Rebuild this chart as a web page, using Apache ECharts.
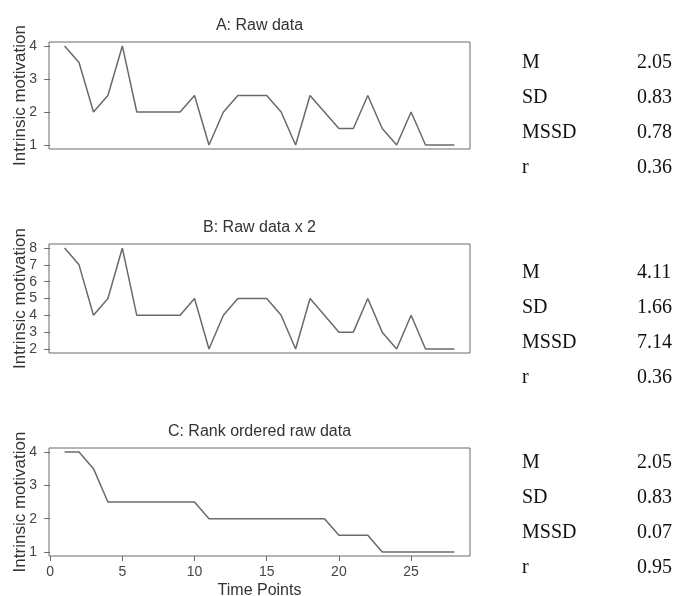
<!DOCTYPE html>
<html>
<head>
<meta charset="utf-8">
<script src="https://cdn.jsdelivr.net/npm/echarts@6/dist/echarts.min.js"></script>
<style>html,body{margin:0;padding:0;background:#fff}#c{width:675px;height:596px}</style>
</head>
<body>
<div id="c"></div>
<script>
// ---- data ----
const timePoints = [1,2,3,4,5,6,7,8,9,10,11,12,13,14,15,16,17,18,19,20,21,22,23,24,25,26,27,28];
const rawData    = [4,3.5,2,2.5,4,2,2,2,2,2.5,1,2,2.5,2.5,2.5,2,1,2.5,2,1.5,1.5,2.5,1.5,1,2,1,1,1];
const rawDataX2  = [8,7,4,5,8,4,4,4,4,5,2,4,5,5,5,4,2,5,4,3,3,5,3,2,4,2,2,2];
const rankData   = [4,4,3.5,2.5,2.5,2.5,2.5,2.5,2.5,2.5,2,2,2,2,2,2,2,2,2,1.5,1.5,1.5,1,1,1,1,1,1];
const panelTitles = ['A: Raw data', 'B: Raw data x 2', 'C: Rank ordered raw data'];
const yTicksA = [1,2,3,4];
const yTicksB = [2,3,4,5,6,7,8];
const yTicksC = [1,2,3,4];
const xTicks = [0,5,10,15,20,25];
const statLabels = ['M','SD','MSSD','r'];
const statsA = ['2.05','0.83','0.78','0.36'];
const statsB = ['4.11','1.66','7.14','0.36'];
const statsC = ['2.05','0.83','0.07','0.95'];

// ---- layout ----
const gridTops = [42, 244, 448];
const gridHeights = [107, 109, 108];
const gridLeft = 49, gridRight = 205;
const lineColor = '#6a6a6a';
const textColor = '#444';
const yLimits = [[0.88, 4.12], [1.76, 8.24], [0.88, 4.12]];
const yTicks = [yTicksA, yTicksB, yTicksC];
const seriesData = [rawData, rawDataX2, rankData];
const statSets = [statsA, statsB, statsC];
const statTops = [63, 273, 463];
const statGap = 34.8;

const chart = echarts.init(document.getElementById('c'), null, {renderer: 'canvas'});

const grids = [], xAxes = [], yAxes = [], series = [], titles = [], graphics = [];
for (let i = 0; i < 3; i++) {
  grids.push({left: gridLeft, right: gridRight, top: gridTops[i], height: gridHeights[i],
    outerBoundsMode: 'none', containLabel: false,
    show: true, borderColor: lineColor, borderWidth: 1, backgroundColor: 'transparent'});
  const isLast = i === 2;
  xAxes.push({type: 'value', gridIndex: i, min: -0.08, max: 29.08,
    axisLine: {show: false},
    splitLine: {show: false},
    axisTick: {show: isLast, length: 5, inside: false, customValues: xTicks, lineStyle: {color: lineColor}},
    axisLabel: {show: isLast, customValues: xTicks, margin: 9, color: textColor, fontSize: 14, fontFamily: 'Liberation Sans, Arial'},
    name: isLast ? 'Time Points' : '', nameLocation: 'middle', nameGap: 27, nameMoveOverlap: false,
    nameTextStyle: {color: '#333', fontSize: 16, fontFamily: 'Liberation Sans, Arial'}
  });
  yAxes.push({type: 'value', gridIndex: i, min: yLimits[i][0], max: yLimits[i][1],
    axisLine: {show: false},
    splitLine: {show: false},
    axisTick: {show: true, length: 6, customValues: yTicks[i], lineStyle: {color: lineColor}},
    axisLabel: {customValues: yTicks[i], margin: 12, color: textColor, fontSize: 14, fontFamily: 'Liberation Sans, Arial'},
    name: 'Intrinsic motivation', nameLocation: 'middle', nameGap: 20, nameMoveOverlap: false,
    nameTextStyle: {color: '#333', fontSize: 17, fontFamily: 'Liberation Sans, Arial'}
  });
  series.push({type: 'line', xAxisIndex: i, yAxisIndex: i, symbol: 'none', animation: false,
    data: timePoints.map((t, k) => [t, seriesData[i][k]]),
    lineStyle: {color: lineColor, width: 1.5}});
  titles.push({text: panelTitles[i], left: gridLeft + (675 - gridLeft - gridRight) / 2, textAlign: 'center',
    top: gridTops[i] - 24, padding: 0,
    textStyle: {color: '#333', fontSize: 16, fontWeight: 'normal', fontFamily: 'Liberation Sans, Arial'}});
  for (let k = 0; k < 4; k++) {
    const y = statTops[i] + k * statGap;
    graphics.push({type: 'text', left: 522, top: y - 10,
      style: {text: statLabels[k], fill: '#111', font: '20px "Liberation Serif", "Times New Roman", serif'}});
    graphics.push({type: 'text', left: 637, top: y - 10,
      style: {text: statSets[i][k], fill: '#111', font: '20px "Liberation Serif", "Times New Roman", serif'}});
  }
}

chart.setOption({
  animation: false,
  title: titles,
  grid: grids,
  xAxis: xAxes,
  yAxis: yAxes,
  series: series,
  graphic: graphics
});
</script>
</body>
</html>
